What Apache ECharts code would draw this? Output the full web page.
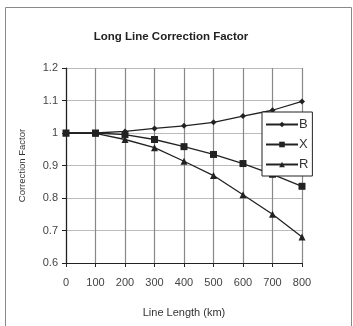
<!DOCTYPE html>
<html>
<head>
<meta charset="utf-8">
<script src="https://cdn.jsdelivr.net/npm/echarts@6/dist/echarts.min.js"></script>
<style>
  html, body { margin: 0; padding: 0; background: #fff; }
  #chart { width: 353px; height: 326px; }
</style>
</head>
<body>
<div id="chart"></div>
<script>
const lengths = [0, 100, 200, 300, 400, 500, 600, 700, 800];
const bValues = [1.0, 1.0, 1.005, 1.014, 1.022, 1.033, 1.052, 1.07, 1.097];
const xValues = [1.0, 1.0, 0.995, 0.98, 0.958, 0.934, 0.906, 0.873, 0.836];
const rValues = [1.0, 0.999, 0.98, 0.955, 0.913, 0.869, 0.81, 0.75, 0.68];

const chart = echarts.init(document.getElementById("chart"));
const font = "Liberation Sans, Arial, sans-serif";

function mkSeries(name, vals, symbol, size) {
  return {
    name: name,
    type: "line",
    data: lengths.map((x, i) => [x, vals[i]]),
    symbol: symbol,
    symbolSize: size,
    itemStyle: { color: "#222" },
    lineStyle: { color: "#222", width: 1.3 },
    emphasis: { disabled: true },
  };
}

const option = {
  animation: false,
  title: {
    text: "Long Line Correction Factor",
    left: 166,
    textAlign: "center",
    top: 26,
    textStyle: { fontFamily: font, fontSize: 11.5, fontWeight: "bold", color: "#222" },
  },
  graphic: [
    {
      type: "rect",
      shape: { x: 5.5, y: 7.5, width: 346, height: 330 },
      style: { fill: "none", stroke: "#888", lineWidth: 1 },
      silent: true,
    },
  ],
  legend: {
    data: ["B", "X", "R"],
    orient: "vertical",
    left: 262,
    top: 112,
    itemWidth: 32,
    itemHeight: 7,
    itemGap: 7,
    padding: [6, 4, 5, 3],
    borderColor: "#222",
    borderWidth: 1,
    backgroundColor: "#fff",
    textStyle: { fontFamily: font, fontSize: 13, color: "#333", padding: [0, 0, 0, -4] },
  },
  grid: { left: 66, right: 51, top: 68, bottom: 63 },
  xAxis: {
    type: "value",
    min: 0,
    max: 800,
    interval: 100,
    name: "Line Length (km)",
    nameLocation: "middle",
    nameGap: 44,
    nameTextStyle: { fontFamily: font, fontSize: 11, color: "#333" },
    axisLine: { lineStyle: { color: "#222", width: 1.2 } },
    axisTick: { show: true, length: 4, lineStyle: { color: "#222" } },
    axisLabel: { fontFamily: font, fontSize: 11, color: "#444", margin: 14 },
    splitLine: { show: true, lineStyle: { color: "#888", width: 1.2 } },
  },
  yAxis: {
    type: "value",
    min: 0.6,
    max: 1.2,
    interval: 0.1,
    name: "Correction Factor",
    nameLocation: "middle",
    nameGap: 39,
    nameTextStyle: { fontFamily: font, fontSize: 9.5, color: "#333" },
    axisLine: { show: true, lineStyle: { color: "#222", width: 1.2 } },
    axisTick: { show: true, length: 4, lineStyle: { color: "#222" } },
    axisLabel: {
      fontFamily: font,
      fontSize: 11,
      color: "#444",
      margin: 8,
      formatter: (v) => String(Math.round(v * 10) / 10),
    },
    splitLine: { show: true, lineStyle: { color: "#bbb", width: 1.2 } },
  },
  series: [
    mkSeries("B", bValues, "diamond", 6),
    mkSeries("X", xValues, "rect", 7),
    mkSeries("R", rValues, "triangle", 7),
  ],
};
chart.setOption(option);
</script>
</body>
</html>
